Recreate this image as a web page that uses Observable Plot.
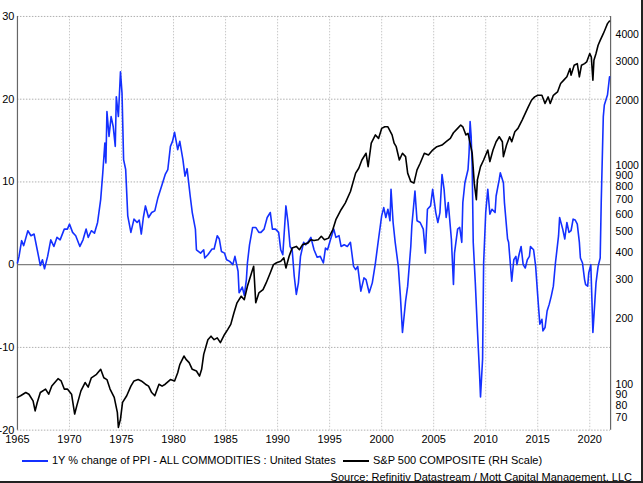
<!DOCTYPE html>
<html><head><meta charset="utf-8">
<script src="https://cdn.jsdelivr.net/npm/d3@7"></script>
<script src="https://cdn.jsdelivr.net/npm/@observablehq/plot@0.6"></script>
<style>
body{margin:0;background:#fff;font-family:"Liberation Sans",Arial,sans-serif;}
#wrap{position:relative;width:643px;height:483px;box-sizing:border-box;border-right:2px solid #222;border-bottom:2px solid #222;overflow:hidden;background:#fff;}
#chart{position:absolute;left:0;top:0;}
.leg{position:absolute;font-size:11px;color:#000;white-space:nowrap;line-height:13px;}
.sw{position:absolute;height:2px;}
</style>
</head><body>
<div id="wrap">
  <div id="chart"></div>
  <div class="sw" style="left:22px;top:460px;width:26px;background:#1430ff"></div>
  <div class="leg" style="left:52px;top:454px">1Y % change of PPI - ALL COMMODITIES : United States</div>
  <div class="sw" style="left:343px;top:460px;width:26px;background:#000"></div>
  <div class="leg" style="left:373px;top:454px">S&amp;P 500 COMPOSITE (RH Scale)</div>
  <div class="leg" style="right:9px;top:471px">Source: Refinitiv Datastream / Mott Capital Management, LLC</div>
</div>
<script>
// ---- data ----
const xTicks = [1965,1970,1975,1980,1985,1990,1995,2000,2005,2010,2015,2020];
const leftTicks = [-20,-10,0,10,20,30];
const rightTicks = [70,80,90,100,200,300,400,500,600,700,800,900,1000,2000,3000,4000];

const ppiYears = [1965.0,1965.15,1965.4,1965.6,1966.0,1966.3,1966.6,1966.9,1967.2,1967.4,1967.6,1967.9,1968.2,1968.5,1968.8,1969.1,1969.5,1969.8,1970.0,1970.3,1970.6,1971.0,1971.3,1971.6,1971.8,1972.1,1972.4,1972.7,1973.0,1973.2,1973.4,1973.5,1973.6,1973.8,1974.0,1974.2,1974.4,1974.5,1974.7,1974.9,1975.05,1975.2,1975.4,1975.6,1975.9,1976.2,1976.5,1976.7,1976.9,1977.1,1977.3,1977.6,1977.9,1978.2,1978.5,1978.9,1979.2,1979.45,1979.7,1979.9,1980.1,1980.4,1980.6,1980.9,1981.1,1981.3,1981.6,1981.8,1982.1,1982.2,1982.6,1982.9,1983.0,1983.3,1983.7,1983.9,1984.2,1984.4,1984.6,1984.9,1985.1,1985.4,1985.7,1985.9,1986.2,1986.3,1986.6,1986.8,1987.0,1987.1,1987.3,1987.6,1987.9,1988.2,1988.4,1988.7,1989.0,1989.3,1989.5,1989.8,1990.1,1990.3,1990.5,1990.7,1990.8,1991.0,1991.2,1991.4,1991.6,1991.8,1992.0,1992.2,1992.5,1992.7,1992.9,1993.2,1993.5,1993.8,1994.1,1994.4,1994.6,1994.8,1995.1,1995.4,1995.6,1995.9,1996.1,1996.4,1996.7,1997.0,1997.3,1997.5,1997.7,1998.0,1998.3,1998.5,1998.8,1999.1,1999.4,1999.7,2000.0,2000.2,2000.4,2000.6,2000.8,2000.9,2001.1,2001.3,2001.6,2001.8,2002.0,2002.3,2002.5,2002.8,2002.9,2003.2,2003.4,2003.7,2004.0,2004.2,2004.4,2004.7,2004.9,2005.2,2005.4,2005.6,2005.8,2006.0,2006.2,2006.4,2006.7,2006.9,2007.0,2007.3,2007.5,2007.7,2007.8,2008.0,2008.3,2008.4,2008.5,2008.6,2008.7,2008.8,2009.0,2009.2,2009.4,2009.5,2009.7,2009.8,2010.0,2010.2,2010.4,2010.6,2010.9,2011.0,2011.3,2011.4,2011.7,2011.8,2012.1,2012.2,2012.5,2012.7,2012.9,2013.0,2013.2,2013.4,2013.6,2013.8,2014.0,2014.2,2014.3,2014.6,2014.8,2015.0,2015.2,2015.4,2015.5,2015.7,2015.9,2016.1,2016.3,2016.5,2016.7,2017.0,2017.1,2017.4,2017.6,2017.8,2018.0,2018.2,2018.4,2018.6,2018.8,2019.0,2019.1,2019.3,2019.5,2019.6,2019.8,2019.9,2020.1,2020.2,2020.3,2020.5,2020.6,2020.8,2021.0,2021.1,2021.3,2021.4,2021.6,2021.7,2021.9];
const ppiValues = [0.2,1.0,2.9,2.3,4.1,3.5,3.7,1.8,-0.1,0.6,-0.5,1.0,3.0,2.2,3.3,3.0,4.3,4.3,4.9,3.9,3.5,2.2,3.0,4.3,3.3,4.1,3.8,5.1,7.9,11.1,14.7,12.3,18.5,15.5,17.9,16.7,14.3,20.3,17.9,23.3,20.7,12.7,11.5,5.9,3.9,5.5,5.1,5.4,3.7,5.7,7.1,5.7,6.3,6.5,8.1,9.7,10.9,11.5,14.3,14.9,16.0,13.9,14.9,12.7,10.7,11.6,8.3,6.3,4.3,1.8,1.4,1.8,0.8,1.2,1.9,1.9,3.5,3.1,1.6,1.4,0.6,0.4,0.0,1.0,-0.8,-3.4,-2.7,-3.7,-1.8,0.2,2.4,4.5,4.5,3.9,3.9,4.3,5.7,6.3,4.3,4.3,3.9,1.8,1.2,5.1,7.1,5.1,2.2,1.8,-1.4,-3.6,-2.2,1.0,2.7,2.4,2.7,3.3,1.8,0.9,1.0,0.2,2.0,1.8,3.1,4.3,3.3,3.5,2.2,2.4,2.2,2.7,-0.2,-0.6,-0.2,-3.2,-1.6,-1.8,-3.4,-2.2,0.2,3.1,5.9,6.9,5.7,6.7,5.3,9.1,5.1,2.7,-0.2,-3.8,-8.2,-4.4,-2.6,2.2,4.7,8.9,5.3,5.1,4.3,1.4,6.7,7.1,9.1,6.3,5.1,6.3,10.9,9.1,5.7,7.5,3.1,-2.4,1.4,4.3,4.5,2.7,7.5,9.9,11.5,13.5,17.3,15.5,11.9,2.7,-2.2,-7.8,-13.0,-16.0,-11.4,0.2,6.3,9.1,6.1,6.7,6.3,8.3,10.3,11.1,9.9,7.5,3.1,2.7,-2.0,0.6,1.0,0.0,1.2,2.2,0.0,-0.4,0.6,1.0,2.2,1.8,-0.2,-3.8,-7.2,-6.6,-8.0,-7.6,-5.6,-4.8,-3.8,-2.6,0.2,3.5,5.7,4.3,3.1,5.1,3.9,4.1,5.5,5.4,4.9,2.7,0.8,0.2,-1.8,-2.4,-2.6,-1.0,0.0,-4.0,-8.2,-4.2,-2.2,-0.2,0.8,7.5,17.9,19.3,20.1,20.5,22.7];

const spYears = [1965.0,1965.3,1965.8,1966.1,1966.5,1966.7,1966.9,1967.2,1967.7,1968.0,1968.3,1968.9,1969.2,1969.5,1969.8,1970.2,1970.5,1970.7,1971.1,1971.5,1971.8,1972.1,1972.6,1973.0,1973.3,1973.6,1973.9,1974.3,1974.6,1974.7,1974.9,1975.1,1975.5,1975.9,1976.2,1976.6,1976.9,1977.3,1977.6,1977.9,1978.2,1978.6,1978.9,1979.2,1979.7,1980.1,1980.4,1980.6,1981.0,1981.2,1981.5,1981.8,1982.2,1982.5,1982.7,1982.9,1983.3,1983.6,1983.9,1984.2,1984.5,1984.9,1985.2,1985.5,1985.8,1986.1,1986.5,1986.8,1987.1,1987.5,1987.7,1987.9,1988.2,1988.6,1988.9,1989.3,1989.6,1989.9,1990.3,1990.6,1990.8,1991.1,1991.4,1991.8,1992.1,1992.4,1992.9,1993.2,1993.5,1993.9,1994.2,1994.5,1994.9,1995.3,1995.6,1996.1,1996.5,1997.0,1997.5,1997.8,1998.1,1998.5,1998.7,1999.0,1999.4,1999.7,2000.0,2000.3,2000.6,2001.0,2001.2,2001.4,2001.7,2002.0,2002.3,2002.5,2002.8,2003.1,2003.4,2003.7,2004.1,2004.5,2004.9,2005.3,2005.8,2006.2,2006.6,2006.9,2007.3,2007.6,2007.8,2008.1,2008.3,2008.5,2008.7,2008.9,2009.1,2009.2,2009.5,2009.8,2010.2,2010.4,2010.7,2011.0,2011.3,2011.6,2011.7,2012.0,2012.3,2012.5,2012.8,2013.1,2013.5,2013.8,2014.1,2014.4,2014.7,2015.0,2015.4,2015.7,2016.0,2016.2,2016.5,2016.9,2017.2,2017.5,2017.8,2018.1,2018.2,2018.5,2018.8,2019.0,2019.2,2019.5,2019.7,2020.0,2020.15,2020.3,2020.4,2020.6,2020.8,2021.0,2021.3,2021.5,2021.7,2021.9];
const spValues = [87,88.5,91.6,90,83.9,75.5,82.5,91.6,95,90,98.2,106,103.5,95,95,90,73,79.6,93.2,101.8,97,107,111,117,107,105,95,87,74.3,63.4,69.2,82.5,88.5,98,103.5,105,103.5,100,98,91.6,88.5,100,98,100,105,103.5,112.8,123,134.6,130,125.6,117,115,109,117,137,160,166,160,163,155,169,178,188,212,236,253,244,281,324,347,236,262,271,291,324,353,360,366,379,341,385,421,428,413,436,443,459,455,459,476,459,467,510,567,630,676,764,927,976,1065,1143,993,1271,1387,1337,1486,1511,1511,1387,1271,1225,1065,1143,1103,927,848,834,959,1029,1143,1122,1183,1225,1247,1291,1337,1419,1486,1539,1511,1387,1410,1271,1143,834,700,863,993,1065,1183,1047,1183,1291,1361,1291,1103,1247,1361,1291,1435,1486,1622,1742,1868,2000,2072,2107,2107,1933,2072,1933,2107,2183,2385,2472,2560,2795,2604,2891,2944,2560,2891,2944,2995,3272,3150,2472,3048,3272,3573,3760,4035,4254,4487,4613];

// ---- scales ----
const xDomain = [1965, 2022];
const leftDomain = [-20, 30];
const rightDomain = [61.6, 4840];   // log scale range aligned with left axis
const lr0 = Math.log(rightDomain[0]), lr1 = Math.log(rightDomain[1]);
const toLeft = v => leftDomain[0] + (leftDomain[1]-leftDomain[0]) * (Math.log(v)-lr0)/(lr1-lr0);

const ppi = ppiYears.map((y,i)=>({year:y, value:ppiValues[i]}));
const sp = spYears.map((y,i)=>({year:y, value:spValues[i]}));

const blue = "#1430ff";
const chart = Plot.plot({
  width: 643, height: 448,
  marginLeft: 17, marginRight: 31, marginTop: 16, marginBottom: 17,
  style: {fontSize: "11px", fontFamily: "'Liberation Sans', Arial, sans-serif", color: "#000", background: "transparent"},
  x: {domain: xDomain, ticks: xTicks, tickFormat: d => String(d), tickSize: 0, tickPadding: 5, label: null},
  y: {domain: leftDomain, ticks: leftTicks, tickFormat: d => String(d), tickSize: 0, tickPadding: 3, label: null},
  marks: [
    Plot.ruleX(xTicks.filter(d => d > 1965), {stroke: "#c8c8c8", strokeDasharray: "1.5,1.5", strokeWidth: 1}),
    Plot.ruleY(leftTicks.filter(d => d !== 0), {stroke: "#b0b0b0", strokeDasharray: "1.5,1.5", strokeWidth: 1}),
    Plot.ruleY([0], {stroke: "#808080", strokeWidth: 1.2}),
    Plot.ruleX([xDomain[0]], {stroke: "#666", strokeWidth: 1.2}),
    Plot.ruleX([xDomain[1]], {stroke: "#666", strokeWidth: 1.2}),
    Plot.line(ppi, {x: "year", y: "value", stroke: blue, strokeWidth: 1.6}),
    Plot.line(sp, {x: "year", y: d => toLeft(d.value), stroke: "#000", strokeWidth: 1.6}),
    Plot.text(rightTicks, {x: () => xDomain[1], y: d => toLeft(d), text: d => String(d), dx: 5, textAnchor: "start", fill: "#000", fontSize: 10.5, lineHeight: 1})
  ]
});
document.getElementById("chart").appendChild(chart);
</script>
</body></html>
